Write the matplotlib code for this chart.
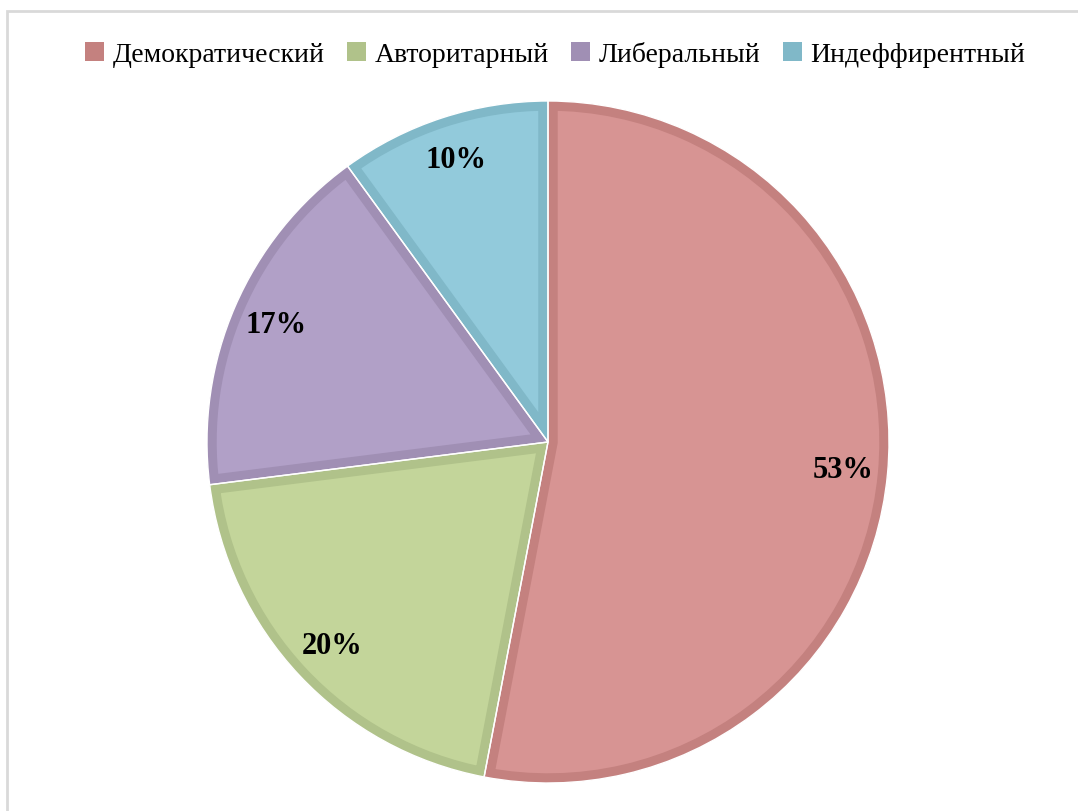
import matplotlib.pyplot as plt
from matplotlib.patches import Patch, Rectangle, Wedge

labels = ["Демократический", "Авторитарный", "Либеральный", "Индеффирентный"]
values = [53, 20, 17, 10]
fill_colors = ["#D79493", "#C3D59A", "#B1A0C7", "#92CADB"]
edge_colors = ["#C4817F", "#B0C28A", "#A08FB4", "#80B8C8"]

plt.rcParams["font.family"] = ["Liberation Serif", "DejaVu Serif"]

fig = plt.figure(figsize=(10.78, 8.12), dpi=100)

# light grey frame, only top and left visible
fig.patches.append(Rectangle((7 / 1078, -0.05), 1.2, 1 - 12 / 812 + 0.05,
                             transform=fig.transFigure, fill=False,
                             edgecolor="#d9d9d9", linewidth=2))

ax = fig.add_axes([207 / 1078, 28 / 812, 682 / 1078, 682 / 812])
wedges, texts, autotexts = ax.pie(
    values, colors=fill_colors, startangle=90, counterclock=False,
    autopct="%1.0f%%", pctdistance=0.87,
    wedgeprops=dict(linewidth=0),
    textprops=dict(fontsize=22, fontweight="bold", color="black"))

# inner darker stroke: a thick outline clipped to the wedge itself
for w, ec in zip(wedges, edge_colors):
    stroke = Wedge(w.center, w.r, w.theta1, w.theta2, facecolor="none",
                   edgecolor=ec, linewidth=14, zorder=w.get_zorder() + 0.1)
    ax.add_patch(stroke)
    stroke.set_clip_path(w)
    sep = Wedge(w.center, w.r, w.theta1, w.theta2, facecolor="none",
                edgecolor="white", linewidth=1.0, zorder=w.get_zorder() + 0.2)
    ax.add_patch(sep)

for t in autotexts:
    t.set_zorder(5)

ax.set_xlim(-1.0, 1.0)
ax.set_ylim(-1.0, 1.0)
ax.set_aspect("equal")
ax.axis("off")

handles = [Patch(facecolor=c, edgecolor="none") for c in edge_colors]
fig.legend(handles, labels, loc="center", bbox_to_anchor=(555 / 1078, 1 - 55 / 812),
           ncol=4, frameon=False, fontsize=20, handlelength=0.7, handleheight=0.7,
           handletextpad=0.3, columnspacing=0.8)

fig.savefig("out.png", dpi=100)
